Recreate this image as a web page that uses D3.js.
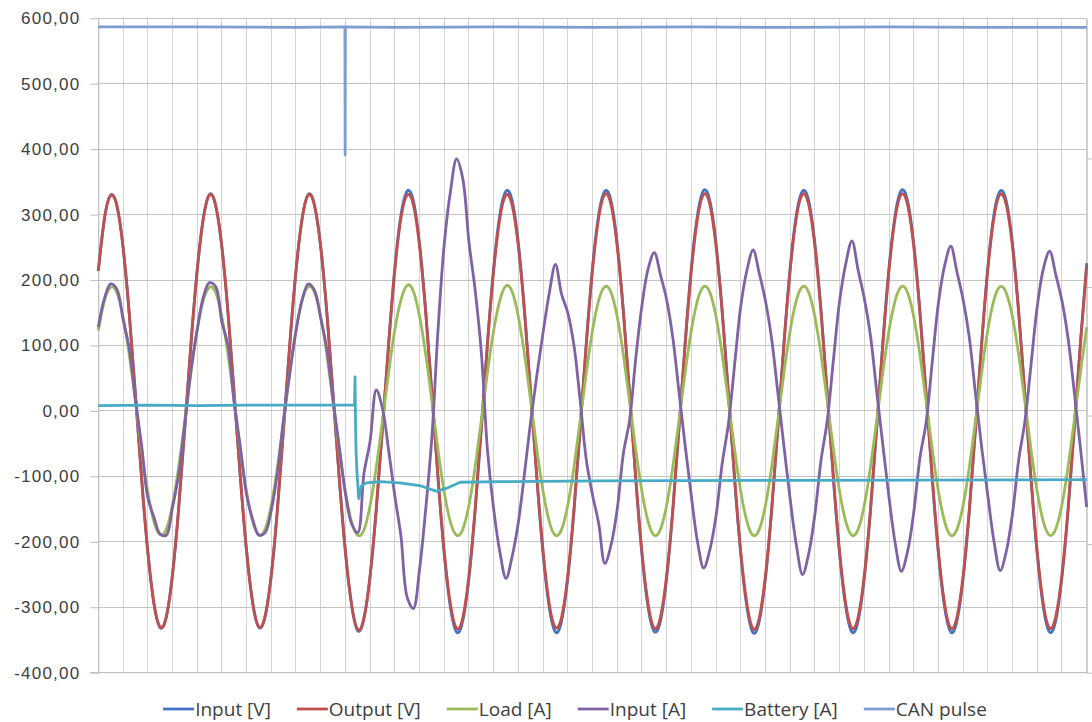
<!DOCTYPE html>
<html>
<head>
    <meta charset="utf-8">
    <title>Input / output waveforms at CAN pulse</title>
    <style>
        body {
            margin: 0;
            background: #fff;
            font-family: "Open Sans", "DejaVu Sans", sans-serif;
        }
        .grid line { shape-rendering: crispEdges; }
        .axis text { fill: #404040; }
        .legend text { fill: #404040; font-size: 19px; }
    </style>
</head>
<body>
    <div id="chart"></div>

    <script src="https://d3js.org/d3.v7.min.js"></script>
    <script>
    // samples are 1.25 ms apart, 200 ms on screen (10 mains cycles)
    const sampleStep = 1.25;

    const seriesNames = ["Input [V]", "Output [V]", "Load [A]", "Input [A]", "Battery [A]", "CAN pulse"];
    const seriesColors = ["#4472c4", "#c0504d", "#9bbb59", "#7f62a3", "#48abc6", "#7f9dce"];
    const yTicks = [-400, -300, -200, -100, 0, 100, 200, 300, 400, 500, 600];

    const outputV = [
        214, 294, 329, 314, 251, 150, 26, -102, -214, -294, -330, -315, -251, -150, -26, 102,
        214, 294, 330, 314, 251, 150, 26, -102, -214, -294, -330, -314, -251, -150, -26, 102,
        214, 294, 330, 314, 251, 150, 26, -102, -215, -296, -334, -317, -252, -150, -26, 102,
        215, 295, 330, 315, 252, 150, 27, -102, -215, -295, -332, -316, -251, -150, -26, 102,
        214, 294, 330, 314, 251, 150, 26, -102, -214, -295, -331, -315, -251, -150, -26, 103,
        215, 295, 331, 315, 251, 150, 26, -102, -215, -295, -332, -315, -251, -150, -26, 102,
        214, 294, 331, 315, 251, 150, 26, -102, -215, -295, -333, -316, -251, -150, -26, 103,
        215, 295, 331, 315, 251, 150, 26, -102, -215, -295, -332, -315, -251, -150, -26, 102,
        215, 295, 331, 315, 251, 150, 26, -102, -215, -295, -332, -315, -251, -150, -26, 103,
        216, 296, 331, 314, 250, 148, 24, -104, -216, -296, -332, -314, -249, -148, -24, 104,
        222
    ];

    const inputV = [
        214, 294, 330, 314, 251, 150, 26, -102, -214, -294, -331, -315, -251, -150, -26, 102,
        214, 294, 331, 314, 251, 150, 26, -102, -214, -294, -331, -314, -251, -150, -26, 102,
        214, 294, 331, 314, 251, 150, 26, -102, -215, -296, -336, -317, -252, -150, -26, 102,
        219, 300, 336, 321, 256, 153, 27, -104, -219, -300, -338, -321, -256, -153, -27, 104,
        219, 300, 336, 321, 256, 153, 27, -104, -219, -300, -338, -321, -256, -153, -27, 104,
        219, 300, 336, 321, 256, 153, 27, -104, -219, -300, -337, -321, -256, -153, -27, 104,
        219, 300, 337, 321, 256, 153, 27, -104, -219, -300, -339, -321, -256, -153, -27, 104,
        219, 300, 336, 321, 256, 153, 27, -104, -219, -300, -338, -321, -256, -153, -27, 104,
        219, 300, 337, 321, 256, 153, 27, -104, -219, -300, -338, -321, -256, -153, -27, 104,
        220, 301, 336, 320, 255, 151, 25, -106, -220, -301, -338, -320, -254, -151, -25, 106,
        226
    ];

    const loadA = [
        123, 169, 189, 181, 144, 86, 15, -59, -123, -169, -189, -181, -144, -86, -15, 59,
        123, 169, 189, 181, 144, 86, 15, -59, -123, -169, -189, -181, -144, -86, -15, 59,
        123, 169, 190, 181, 144, 86, 15, -59, -123, -170, -190, -182, -144, -86, -15, 59,
        124, 170, 192, 183, 145, 87, 15, -60, -124, -170, -190, -181, -144, -86, -15, 59,
        123, 169, 191, 182, 144, 86, 15, -59, -123, -169, -190, -181, -144, -86, -15, 59,
        123, 169, 190, 181, 144, 86, 15, -59, -123, -169, -190, -181, -144, -86, -15, 59,
        123, 169, 190, 181, 144, 86, 15, -59, -123, -169, -190, -181, -144, -86, -15, 59,
        123, 169, 190, 181, 144, 86, 15, -59, -123, -169, -190, -181, -144, -86, -15, 59,
        123, 169, 190, 181, 144, 86, 15, -59, -123, -169, -190, -181, -144, -86, -15, 59,
        124, 170, 190, 180, 143, 85, 14, -60, -124, -170, -190, -180, -143, -85, -14, 60,
        128
    ];

    const inputA = [
        128, 172, 194, 186, 140, 96, 18, -52, -132, -162, -188, -190, -148, -98, -20, 62,
        124, 174, 196, 190, 136, 100, 12, -56, -128, -166, -190, -186, -152, -94, -12, 58,
        122, 170, 194, 184, 142, 94, 16, -54, -126, -172, -186, -96, -46, 32, 4, -60,
        -130, -192, -285, -302, -242, -150, -40, 125, 255, 335, 385, 355, 258, 185, 90, -60,
        -150, -215, -256, -222, -170, -95, -15, 55, 120, 180, 224, 178, 150, 100, 16, -75,
        -128, -172, -233, -205, -150, -65, -14, 80, 161, 217, 242, 208, 170, 112, 29, -53,
        -130, -200, -240, -212, -160, -80, -20, 70, 160, 215, 246, 210, 168, 110, 28, -55,
        -135, -205, -250, -218, -158, -75, -15, 78, 168, 225, 260, 215, 172, 115, 30, -52,
        -132, -202, -245, -215, -155, -72, -18, 75, 165, 222, 252, 212, 170, 112, 26, -56,
        -130, -200, -244, -214, -156, -74, -16, 72, 160, 218, 244, 208, 168, 110, 28, -58,
        -147
    ];

    // battery current and CAN pulse were logged at their own instants (ms)
    const batteryT = [0, 10, 20, 30, 40, 51.8, 51.85, 51.95, 52.05, 52.15, 52.35, 52.7, 53.2, 54.2,
                      57, 61, 65, 68.5, 70.5, 73.2, 81.3, 101.5, 142, 200];
    const batteryA = [8, 9, 8, 9, 9, 9, 9, 52, -20, -60, -95, -134, -115, -110,
                      -108, -110, -114, -123, -118, -109, -108, -107, -106, -105];

    const canT = [0, 20, 40, 49.9, 49.95, 50.0, 60, 80, 100, 120, 140, 160, 180, 200];
    const canPulse = [587, 587, 586, 587, 391, 587, 586, 587, 586, 587, 586, 587, 586, 586];

    const sampleTime = d3.range(inputV.length).map(i => i * sampleStep);

    const series = [
        {name: seriesNames[0], t: sampleTime, v: inputV, curve: d3.curveNatural},
        {name: seriesNames[1], t: sampleTime, v: outputV, curve: d3.curveNatural},
        {name: seriesNames[2], t: sampleTime, v: loadA, curve: d3.curveNatural},
        {name: seriesNames[3], t: sampleTime, v: inputA, curve: d3.curveCatmullRom},
        {name: seriesNames[4], t: batteryT, v: batteryA, curve: d3.curveLinear},
        {name: seriesNames[5], t: canT, v: canPulse, curve: d3.curveLinear}
    ];

    const W = 1092, H = 722;
    const plot = {left: 98.3, right: 1086.7, top: 18.3, bottom: 672.7};

    const svg = d3.select("#chart").append("svg")
        .attr("width", W)
        .attr("height", H);

    const x = d3.scaleLinear().domain([0, 200]).range([plot.left, plot.right]);
    const y = d3.scaleLinear().domain([-400, 600]).range([plot.bottom, plot.top]);
    const color = d3.scaleOrdinal().domain(seriesNames).range(seriesColors);

    // vertical gridlines every 5 ms
    svg.append("g")
        .attr("class", "grid")
        .selectAll("line")
        .data(x.ticks(40))
        .join("line")
        .attr("x1", d => x(d)).attr("x2", d => x(d))
        .attr("y1", plot.top).attr("y2", plot.bottom)
        .attr("stroke", "#d4d4d4");

    // horizontal gridlines
    svg.append("g")
        .attr("class", "grid")
        .selectAll("line")
        .data(yTicks)
        .join("line")
        .attr("x1", plot.left).attr("x2", plot.right)
        .attr("y1", d => y(d)).attr("y2", d => y(d))
        .attr("stroke", "#c4c4c4");

    // left value axis
    const yAxis = svg.append("g")
        .attr("class", "axis")
        .attr("transform", `translate(${plot.left},0)`)
        .call(d3.axisLeft(y)
            .tickValues(yTicks)
            .tickSize(8)
            .tickSizeOuter(0)
            .tickPadding(10)
            .tickFormat(d => d.toFixed(2).replace(".", ",")));
    yAxis.selectAll("line, path").attr("stroke", "#bdbdbd");
    yAxis.selectAll("text")
        .style("font-size", "17px")
        .style("letter-spacing", "1.2px");

    // secondary axis on the right, labels are not shown in the source
    const y2 = d3.scaleLinear().domain([0, 5.09]).range([plot.bottom, plot.top]);
    const y2Axis = svg.append("g")
        .attr("transform", `translate(${plot.right},0)`)
        .call(d3.axisRight(y2).tickValues([0, 1, 2, 3, 4]).tickSize(5).tickSizeOuter(0).tickFormat(""));
    y2Axis.selectAll("line, path").attr("stroke", "#bdbdbd");

    // bottom axis line
    svg.append("line")
        .attr("x1", plot.left - 8).attr("x2", plot.right)
        .attr("y1", plot.bottom).attr("y2", plot.bottom)
        .attr("stroke", "#bdbdbd");

    // the traces, in Excel series order
    svg.append("g")
        .selectAll("path")
        .data(series)
        .join("path")
        .attr("fill", "none")
        .attr("stroke", d => color(d.name))
        .attr("stroke-width", 2.8)
        .attr("stroke-linejoin", "round")
        .attr("d", s => d3.line()
            .x((d, i) => x(s.t[i]))
            .y(d => y(d))
            .curve(s.curve)(s.v));

    // legend, centred under the plot
    const legend = svg.append("g").attr("class", "legend");
    const items = legend.selectAll("g")
        .data(seriesNames)
        .join("g");

    items.append("line")
        .attr("x1", 0).attr("x2", 31)
        .attr("y1", 0).attr("y2", 0)
        .attr("stroke", d => color(d))
        .attr("stroke-width", 2.8);

    items.append("text")
        .attr("x", 32)
        .attr("dy", "0.35em")
        .text(d => d);

    let cursor = 0;
    items.each(function() {
        const w = 32 + d3.select(this).select("text").node().getComputedTextLength();
        d3.select(this).attr("transform", `translate(${cursor},709)`);
        cursor += w + 26;
    });
    const legendWidth = cursor - 26;
    legend.attr("transform", `translate(${575 - legendWidth / 2},0)`);
    </script>
</body>
</html>
